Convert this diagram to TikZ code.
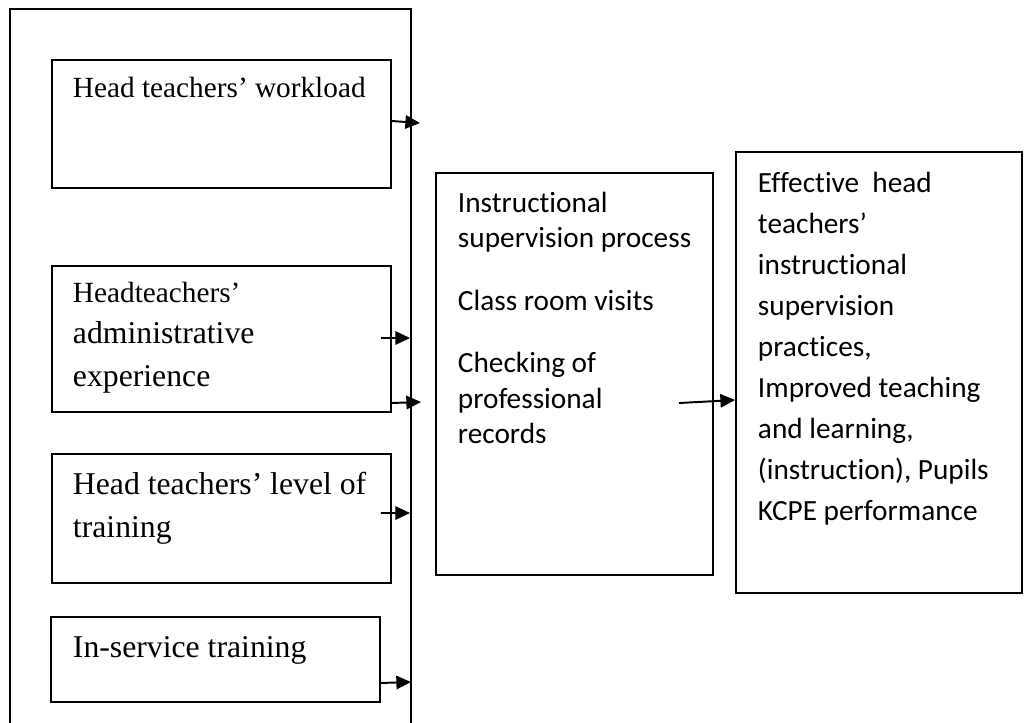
\documentclass[tikz,border=0pt]{standalone}
\usepackage{fontspec}
\setmainfont{Liberation Serif}
\newfontfamily\calibri[Ligatures={NoCommon,NoContextual,NoRequired}]{Carlito}
\usetikzlibrary{arrows.meta,fit,calc}

\tikzset{
  box/.style={draw, line width=0.8pt, inner sep=0pt},
  frame/.style={draw, line width=0.65pt, inner sep=0pt},
  txt/.style={anchor=base west, inner sep=0pt, font=\fontsize{12}{14}\selectfont},
  bigtxt/.style={txt, font=\fontsize{13}{15}\selectfont},
  sans/.style={txt, font=\calibri\fontsize{12}{14}\selectfont}
}

\begin{document}
\begin{tikzpicture}[x=0.0144cm, y=-0.0144cm, >={Triangle[length=6pt,width=5.5pt]}, line width=0.8pt]
  \useasboundingbox (0,0) rectangle (1024,722);
  \clip (0,0) rectangle (1024,722);

  % boxes
  \node[frame, fit={(10,9) (411,740)}]  (frame)  {};
  \node[box, fit={(52,60) (391,188)}]   (wl)     {};
  \node[box, fit={(52,266) (391,412)}]  (ae)     {};
  \node[box, fit={(52,454) (391,583)}]  (lt)     {};
  \node[box, fit={(51,617) (380,702)}]  (ist)    {};
  \node[box, fit={(436,173) (713,575)}] (proc)   {};
  \node[box, fit={(736,152) (1022,593)}] (effect) {};

  % left texts
  \node[txt]    (wltext)  at (72,97)  {Head teachers’ workload};
  \node[txt]    (ae1)     at (72,302) {Headteachers’};
  \node[bigtxt] (ae2)     at (72,343) {administrative};
  \node[bigtxt] (ae3)     at (72,386) {experience};
  \node[bigtxt] (lt1)     at (72,494) {Head teachers’ level of};
  \node[bigtxt] (lt2)     at (72,537) {training};
  \node[bigtxt] (isttext) at (72,657) {In-service training};

  % middle and right texts
  \foreach \t/\yy [count=\i] in {Instructional/212, supervision process/247,
      Class room visits/310, Checking of/372, professional/408, records/443}
    \node[sans] (proc\i) at (457,\yy) {\t};
  \foreach \t [count=\i from 0] in {Effective\ \ head, teachers’, instructional,
      supervision, {practices,}, Improved teaching, {and learning,},
      {(instruction), Pupils}, KCPE performance}
    \node[sans] (eff\i) at (757,192+41*\i) {\t};

  % arrows
  \coordinate (t1) at (420,123);
  \coordinate (t2) at (410,338);
  \coordinate (t3) at (421,402);
  \coordinate (t4) at (410,513);
  \coordinate (t5) at (411,682);
  \draw[->] ($(wl.east)+(0,-3)$)        -- (t1);
  \draw[->] ($(ae.east)+(-11,-1)$)      -- (t2);
  \draw[->] ($(ae.south east)+(0,-10)$) -- (t3);
  \draw[->] ($(lt.east)+(-11,-5.5)$)    -- (t4);
  \draw[->] ($(ist.south east)+(0,-20)$) -- (t5);
  \draw[->] ($(proc.east)+(-35,29)$)    -- ($(effect.west)+(0,27.5)$);
\end{tikzpicture}
\end{document}
